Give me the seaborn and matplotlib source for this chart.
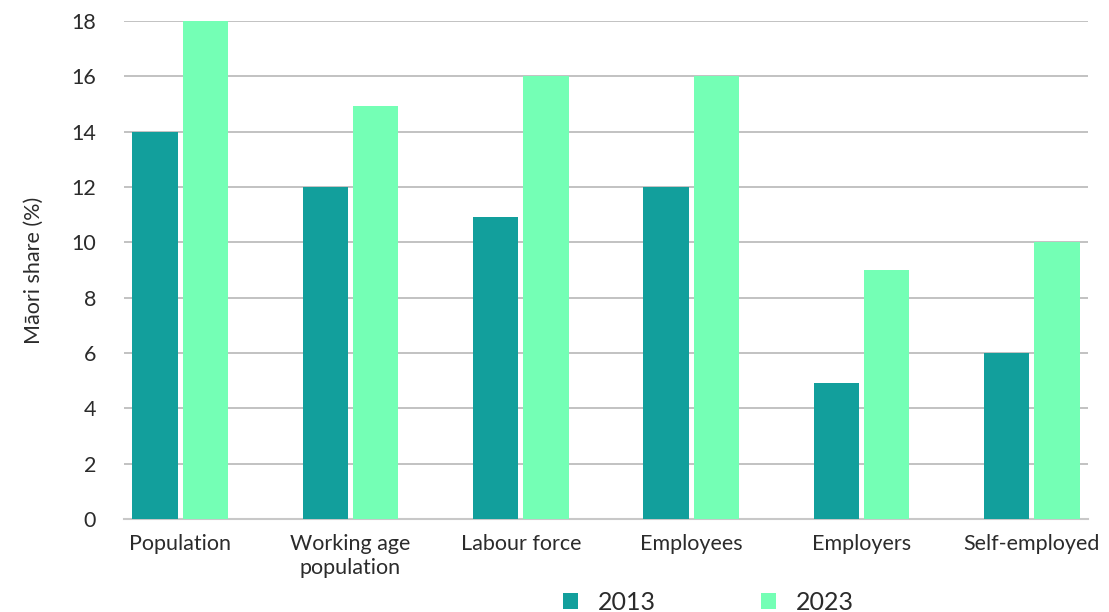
import pandas as pd
import matplotlib.pyplot as plt
import seaborn as sns
from matplotlib.patches import Patch

categorias = ["Population", "Working age\npopulation", "Labour force",
              "Employees", "Employers", "Self-employed"]
valores_2013 = [14, 12, 10.9, 12, 4.9, 6]
valores_2023 = [18, 14.93, 16, 16, 9, 10]
anos = ["2013", "2023"]
cores = ["#129F9C", "#74FFB5"]

df = pd.DataFrame({
    "Categoria": categorias * 2,
    "Ano": [anos[0]] * len(categorias) + [anos[1]] * len(categorias),
    "Share": valores_2013 + valores_2023,
})

sns.set_theme(style="white")
plt.rcParams["font.family"] = ["Lato", "DejaVu Sans"]
texto = "#2b2b2b"

fig = plt.figure(figsize=(11.09, 6.12), dpi=100)
ax = fig.add_axes([124 / 1109, 1 - 519 / 612, (1088 - 124) / 1109, (519 - 21) / 612])

sns.barplot(data=df, x="Categoria", y="Share", hue="Ano", palette=cores,
            width=0.59, gap=0.1, saturation=1, legend=False, ax=ax, zorder=3,
            linewidth=0, edgecolor="none")

ax.set_xlim(-0.33, 5.33)
ax.set_ylim(0, 18)
ax.set_yticks(range(0, 19, 2))
ax.yaxis.grid(True, color="#b8b8b8", linewidth=1.2, zorder=0)
ax.set_axisbelow(True)
for s in ["top", "right", "left"]:
    ax.spines[s].set_visible(False)
ax.spines["bottom"].set_color("#c8c8c8")
ax.spines["bottom"].set_linewidth(1.5)
ax.tick_params(axis="both", length=0, labelsize=15.5, colors=texto)
ax.tick_params(axis="y", pad=20)
ax.tick_params(axis="x", pad=11)
for lab in ax.get_xticklabels():
    lab.set_linespacing(1.25)
ax.set_xlabel("")
ax.set_ylabel("Māori share (%)", fontsize=15.5, color=texto, labelpad=20)

handles = [Patch(facecolor=c, edgecolor="none") for c in cores]
fig.legend(handles, anos, loc="center", bbox_to_anchor=(708 / 1109, 1 - 602 / 612),
           ncol=2, frameon=False, fontsize=18, handlelength=0.6, handleheight=0.6,
           handletextpad=0.8, columnspacing=4.2, labelcolor=texto)

plt.savefig("out.png", dpi=100)
